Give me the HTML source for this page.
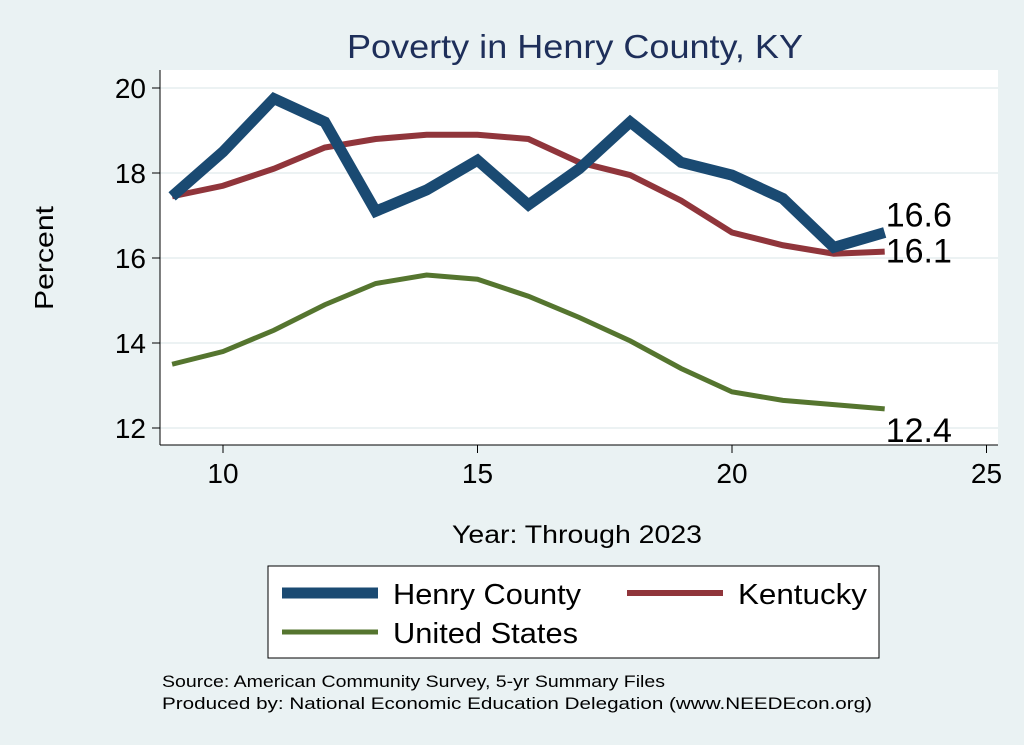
<!DOCTYPE html>
<html><head><meta charset="utf-8"><style>
body{margin:0;background:#eaf2f3;}
svg{display:block;font-family:"Liberation Sans",sans-serif;}
</style></head><body>
<svg id="chart" width="1024" height="745">
<rect x="0" y="0" width="1024" height="745" fill="#eaf2f3"/>
<text x="575" y="58" font-size="33" fill="#1e2f5a" text-anchor="middle" textLength="456" lengthAdjust="spacingAndGlyphs">Poverty in Henry County, KY</text>
<rect x="160" y="70" width="838" height="375" fill="#fff"/>
<g id="grid"></g><g id="axes"></g><g id="series"></g>
<text x="53" y="258" font-size="26" text-anchor="middle" textLength="104" lengthAdjust="spacingAndGlyphs" transform="rotate(-90 53 258)">Percent</text>
<text x="577" y="543" font-size="25" text-anchor="middle" textLength="250" lengthAdjust="spacingAndGlyphs">Year: Through 2023</text>
<g>
<rect x="268" y="566" width="611" height="92" fill="#fff" stroke="#000" stroke-width="1"/>
<line x1="282" y1="593" x2="378" y2="593" stroke="#1a4a72" stroke-width="11"/>
<text x="393" y="604" font-size="29" textLength="188" lengthAdjust="spacingAndGlyphs">Henry County</text>
<line x1="627" y1="593" x2="723" y2="593" stroke="#90353b" stroke-width="6"/>
<text x="738" y="604" font-size="29" textLength="129" lengthAdjust="spacingAndGlyphs">Kentucky</text>
<line x1="282" y1="632" x2="378" y2="632" stroke="#55752f" stroke-width="5"/>
<text x="393" y="643" font-size="29" textLength="185" lengthAdjust="spacingAndGlyphs">United States</text>
</g>
<text x="162" y="687" font-size="17" textLength="503" lengthAdjust="spacingAndGlyphs">Source: American Community Survey, 5-yr Summary Files</text>
<text x="162" y="709" font-size="17" textLength="710" lengthAdjust="spacingAndGlyphs">Produced by: National Economic Education Delegation (www.NEEDEcon.org)</text>
</svg>
<script>
const years=[9,10,11,12,13,14,15,16,17,18,19,20,21,22,23];
const henry=[17.45,18.5,19.75,19.2,17.1,17.6,18.3,17.25,18.1,19.2,18.25,17.95,17.4,16.25,16.6];
const kentucky=[17.45,17.7,18.1,18.6,18.8,18.9,18.9,18.8,18.25,17.95,17.35,16.6,16.3,16.1,16.15];
const us=[13.5,13.8,14.3,14.9,15.4,15.6,15.5,15.1,14.6,14.05,13.4,12.85,12.65,12.55,12.45];
const yTicks=[12,14,16,18,20];
const xTicks=[10,15,20,25];
const endLabels=["16.6","16.1","12.4"];
const ns="http://www.w3.org/2000/svg";
const X=v=>223+(v-10)*50.9, Y=v=>428-(v-12)*42.5;
function mk(t,a,p){const e=document.createElementNS(ns,t);for(const k in a)e.setAttribute(k,a[k]);document.getElementById(p).appendChild(e);return e;}
yTicks.forEach(t=>{
 const g=mk('line',{x1:160,x2:998,y1:Y(t),y2:Y(t),stroke:'#e6eeef','stroke-width':1.5},'grid');
 
 
 const tk=mk('line',{x1:152,x2:160,y1:Y(t),y2:Y(t),stroke:'#000'},'axes');
 
 
 const l=mk('text',{x:146,y:Y(t)+10,'font-size':28,'text-anchor':'end'},'axes');l.textContent=t;
 
 
});
xTicks.forEach(t=>{
 const tk=mk('line',{x1:X(t),x2:X(t),y1:445,y2:453,stroke:'#000'},'axes');
 
 
 const l=mk('text',{x:X(t),y:483,'font-size':28,'text-anchor':'middle'},'axes');l.textContent=t;
 
 
});
const ya=mk('line',{x1:160,x2:160,y1:70,y2:445,stroke:'#000'},'axes');


const xa=mk('line',{x1:160,x2:998,y1:445,y2:445,stroke:'#000'},'axes');


const S=[[us,'#55752f',5,'us-line',12],[kentucky,'#90353b',6,'kentucky-line',8],[henry,'#1a4a72',11,'henry-line',-6]];
const labOrder=[2,1,0];
S.forEach((s,i)=>{
 const p=mk('polyline',{points:years.map((y,j)=>X(y)+','+Y(s[0][j])).join(' '),fill:'none',stroke:s[1],'stroke-width':s[2],'stroke-linejoin':'miter'},'series');
 
 
 const last=s[0][s[0].length-1];
 const t=mk('text',{x:X(years[years.length-1])+1,y:Y(last)+s[4]+(i==0?21:i==1?3:0),'font-size':34},'series');
 t.textContent=endLabels[labOrder[i]];
 
 
});
</script>
</body></html>
